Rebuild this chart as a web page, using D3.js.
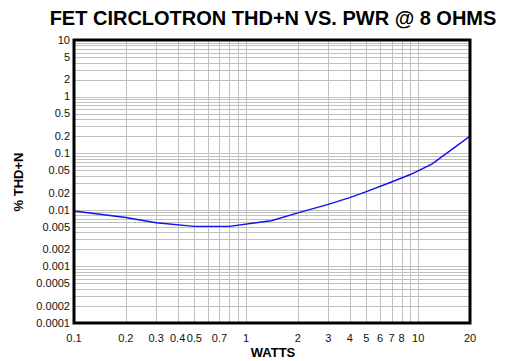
<!DOCTYPE html>
<html>
<head>
<meta charset="utf-8">
<script src="https://cdn.jsdelivr.net/npm/d3@7"></script>
<style>
  body { margin: 0; background: #fff; }
  svg { display: block; font-family: "Liberation Sans", Arial, sans-serif; }
</style>
</head>
<body>
<svg id="chart" width="517" height="361"></svg>
<script>
// Data
const watts = [0.1, 0.2, 0.3, 0.5, 0.8, 1.4, 2, 3, 4, 5, 7, 9, 12, 20];
const thdn  = [0.0095, 0.0073, 0.0059, 0.0051, 0.0051, 0.0064, 0.0088, 0.0125, 0.0164, 0.021, 0.031, 0.042, 0.064, 0.2];

const xTickVals = [0.1, 0.2, 0.3, 0.4, 0.5, 0.7, 1, 2, 3, 4, 5, 6, 7, 8, 10, 20];
const xGridVals = [0.2, 0.3, 0.4, 0.5, 0.6, 0.7, 0.8, 0.9, 1, 2, 3, 4, 5, 6, 7, 8, 9, 10];
const yTickVals = [10, 5, 2, 1, 0.5, 0.2, 0.1, 0.05, 0.02, 0.01, 0.005, 0.002, 0.001, 0.0005, 0.0002, 0.0001];

const margin = { top: 40, right: 47, bottom: 38, left: 74 };
const width = 517, height = 361;

const svg = d3.select('#chart');

const x = d3.scaleLog().domain([0.1, 20]).range([margin.left, width - margin.right]);
const y = d3.scaleLog().domain([0.0001, 10]).range([height - margin.bottom, margin.top]);

// horizontal grid: 2..9 in every decade
const yGridVals = [];
[0.0001, 0.001, 0.01, 0.1, 1].forEach(d => {
    for (let k = 2; k <= 9; k++) yGridVals.push(+(d * k).toPrecision(3));
});
yGridVals.push(0.001, 0.01, 0.1, 1);

svg.append('g')
    .selectAll('line')
    .data(yGridVals)
    .join('line')
    .attr('x1', margin.left).attr('x2', width - margin.right)
    .attr('y1', d => Math.round(y(d)) + 0.5).attr('y2', d => Math.round(y(d)) + 0.5)
    .attr('stroke', '#c0c0c0').attr('stroke-width', 1);

svg.append('g')
    .selectAll('line')
    .data(xGridVals)
    .join('line')
    .attr('x1', d => Math.round(x(d)) + 0.5).attr('x2', d => Math.round(x(d)) + 0.5)
    .attr('y1', margin.top).attr('y2', height - margin.bottom)
    .attr('stroke', '#c0c0c0').attr('stroke-width', 1);

// curve
const line = d3.line().x((d, i) => x(watts[i])).y(d => y(d));
svg.append('path')
    .attr('d', line(thdn))
    .attr('fill', 'none')
    .attr('stroke', '#1010f0')
    .attr('stroke-width', 1.4);

// frame
svg.append('rect')
    .attr('x', margin.left).attr('y', margin.top)
    .attr('width', width - margin.right - margin.left)
    .attr('height', height - margin.bottom - margin.top)
    .attr('fill', 'none').attr('stroke', '#000').attr('stroke-width', 3);

// axes labels
const fmt = d => String(d);
svg.append('g')
    .selectAll('text')
    .data(yTickVals)
    .join('text')
    .attr('x', margin.left - 4)
    .attr('y', d => y(d))
    .attr('dy', '0.35em')
    .attr('text-anchor', 'end')
    .attr('font-size', 11)
    .attr('fill', '#111')
    .text(fmt);

svg.append('g')
    .selectAll('text')
    .data(xTickVals)
    .join('text')
    .attr('x', d => x(d))
    .attr('y', height - margin.bottom + 19)
    .attr('text-anchor', 'middle')
    .attr('font-size', 11)
    .attr('fill', '#111')
    .text(fmt);

// titles
svg.append('text')
    .attr('x', 273).attr('y', 25)
    .attr('text-anchor', 'middle')
    .attr('font-size', 20).attr('font-weight', 'bold')
    .text('FET CIRCLOTRON THD+N VS. PWR @ 8 OHMS');

svg.append('text')
    .attr('x', 273).attr('y', 357)
    .attr('text-anchor', 'middle')
    .attr('font-size', 13).attr('font-weight', 'bold')
    .text('WATTS');

svg.append('text')
    .attr('transform', 'translate(23,182) rotate(-90)')
    .attr('text-anchor', 'middle')
    .attr('font-size', 13).attr('font-weight', 'bold')
    .text('% THD+N');
</script>
</body>
</html>
